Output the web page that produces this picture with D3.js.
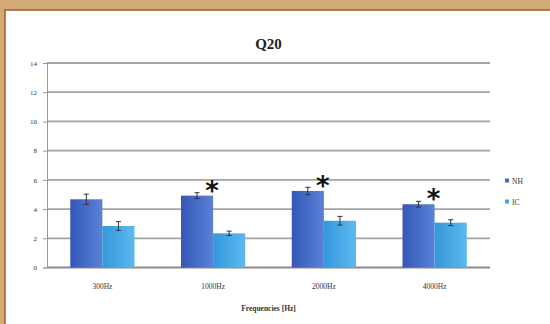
<!DOCTYPE html>
<html>
<head>
<meta charset="utf-8">
<script src="https://cdn.jsdelivr.net/npm/d3@7"></script>
<style>
  body { margin: 0; background: #d2aa78; }
  svg { display: block; }
</style>
</head>
<body>
<div id="chart"></div>
<script>
// chart data
var categories = ["300Hz", "1000Hz", "2000Hz", "4000Hz"];
var seriesNames = ["NH", "IC"];
var nhValues = [4.67, 4.92, 5.24, 4.33];
var icValues = [2.84, 2.34, 3.2, 3.07];
var nhErrors = [0.35, 0.2, 0.25, 0.2];
var icErrors = [0.3, 0.15, 0.3, 0.2];
var significant = [false, true, true, true];
var yTicks = [0, 2, 4, 6, 8, 10, 12, 14];

var svgWidth = 550;
var svgHeight = 324;

var margin = { top: 63, right: 60, bottom: 56, left: 47 };
var width = svgWidth - margin.left - margin.right;
var height = 267.5 - margin.top;

var svg = d3.select("#chart")
  .append("svg")
  .attr("width", svgWidth)
  .attr("height", svgHeight);

// white panel with brown edge
svg.append("rect")
  .attr("x", 5).attr("y", 10)
  .attr("width", svgWidth).attr("height", svgHeight)
  .attr("fill", "#ffffff")
  .attr("stroke", "#a35a26")
  .attr("stroke-width", 1.5);

var defs = svg.append("defs");
function addGrad(id, c1, c2) {
  var g = defs.append("linearGradient").attr("id", id)
    .attr("x1", "0%").attr("x2", "100%").attr("y1", "0%").attr("y2", "0%");
  g.append("stop").attr("offset", "0%").attr("stop-color", c1);
  g.append("stop").attr("offset", "100%").attr("stop-color", c2);
}
addGrad("gradNH", "#3457b8", "#5a82d6");
addGrad("gradIC", "#3598dc", "#5cb8ef");

var chartGroup = svg.append("g")
  .attr("transform", `translate(${margin.left}, ${margin.top})`);

var x0 = d3.scaleBand().domain(categories).range([0, width]).paddingInner(0).paddingOuter(0);
var x1 = d3.scaleBand().domain(seriesNames).range([x0.bandwidth() * 0.21, x0.bandwidth() * 0.79]);
var y = d3.scaleLinear().domain([0, 14]).range([height, 0]);

// gridlines
chartGroup.append("g")
  .selectAll("line")
  .data(yTicks)
  .enter()
  .append("line")
  .attr("x1", 0).attr("x2", width)
  .attr("y1", d => y(d)).attr("y2", d => y(d))
  .attr("stroke", d => d === 0 ? "#8a8a8a" : "#a4a4a4")
  .attr("stroke-width", 1.8);

// y axis
var leftAxis = d3.axisLeft(y).tickValues(yTicks).tickSize(4).tickPadding(6);
var yAxis = chartGroup.append("g").call(leftAxis);
yAxis.select(".domain").attr("stroke", "#999");
yAxis.selectAll(".tick line").attr("stroke", "#999");
yAxis.selectAll("text")
  .attr("font-family", "Liberation Serif, serif")
  .attr("font-size", 7)
  .attr("fill", "#333");

var data = categories.map(function(c, i) {
  return {
    cat: c,
    vals: [
      { key: "NH", v: nhValues[i], e: nhErrors[i] },
      { key: "IC", v: icValues[i], e: icErrors[i] }
    ],
    sig: significant[i]
  };
});

var groups = chartGroup.selectAll(".grp")
  .data(data)
  .enter()
  .append("g")
  .attr("transform", d => `translate(${x0(d.cat)},0)`);

groups.selectAll("rect")
  .data(d => d.vals)
  .enter()
  .append("rect")
  .attr("x", d => x1(d.key))
  .attr("y", d => y(d.v))
  .attr("width", x1.bandwidth())
  .attr("height", d => height - y(d.v))
  .attr("fill", d => d.key === "NH" ? "url(#gradNH)" : "url(#gradIC)");

// error bars
var err = groups.selectAll(".err")
  .data(d => d.vals)
  .enter()
  .append("g")
  .attr("stroke", "#333")
  .attr("stroke-width", 1);
err.append("line")
  .attr("x1", d => x1(d.key) + x1.bandwidth() / 2)
  .attr("x2", d => x1(d.key) + x1.bandwidth() / 2)
  .attr("y1", d => y(d.v + d.e))
  .attr("y2", d => y(d.v - d.e));
err.append("line")
  .attr("x1", d => x1(d.key) + x1.bandwidth() / 2 - 2.5)
  .attr("x2", d => x1(d.key) + x1.bandwidth() / 2 + 2.5)
  .attr("y1", d => y(d.v + d.e))
  .attr("y2", d => y(d.v + d.e));
err.append("line")
  .attr("x1", d => x1(d.key) + x1.bandwidth() / 2 - 2.5)
  .attr("x2", d => x1(d.key) + x1.bandwidth() / 2 + 2.5)
  .attr("y1", d => y(d.v - d.e))
  .attr("y2", d => y(d.v - d.e));

// significance stars
groups.filter(d => d.sig)
  .append("text")
  .attr("x", x0.bandwidth() / 2 - 1)
  .attr("y", d => y(d.vals[0].v) + 4)
  .attr("text-anchor", "middle")
  .attr("font-family", "DejaVu Sans, sans-serif")
  .attr("font-weight", "bold")
  .attr("font-size", 26)
  .attr("fill", "#111")
  .text("*");

// x labels
chartGroup.append("g")
  .selectAll("text")
  .data(categories)
  .enter()
  .append("text")
  .attr("x", d => x0(d) + x0.bandwidth() / 2)
  .attr("y", height + 21)
  .attr("text-anchor", "middle")
  .attr("font-family", "Liberation Serif, serif")
  .attr("font-size", 7.5)
  .attr("fill", "#333")
  .text(d => d);

// axis title
chartGroup.append("text")
  .attr("x", width / 2)
  .attr("y", height + 43)
  .attr("text-anchor", "middle")
  .attr("font-family", "Liberation Serif, serif")
  .attr("font-weight", "bold")
  .attr("font-size", 7.5)
  .attr("fill", "#333")
  .text("Frequencies [Hz]");

// chart title
svg.append("text")
  .attr("x", margin.left + width / 2)
  .attr("y", 49)
  .attr("text-anchor", "middle")
  .attr("font-family", "Liberation Serif, serif")
  .attr("font-weight", "bold")
  .attr("font-size", 15)
  .attr("fill", "#222")
  .text("Q20");

// legend
var legend = svg.append("g").attr("transform", "translate(505, 181)");
var legendColors = ["#4469c8", "#3fa6e6"];
seriesNames.forEach(function(s, i) {
  legend.append("rect")
    .attr("x", 0).attr("y", i * 21 - 2.5)
    .attr("width", 4).attr("height", 4)
    .attr("fill", legendColors[i]);
  legend.append("text")
    .attr("x", 7).attr("y", i * 21 + 2.5)
    .attr("font-family", "Liberation Serif, serif")
    .attr("font-size", 7.5)
    .attr("fill", "#333")
    .text(s);
});
</script>
</body>
</html>
